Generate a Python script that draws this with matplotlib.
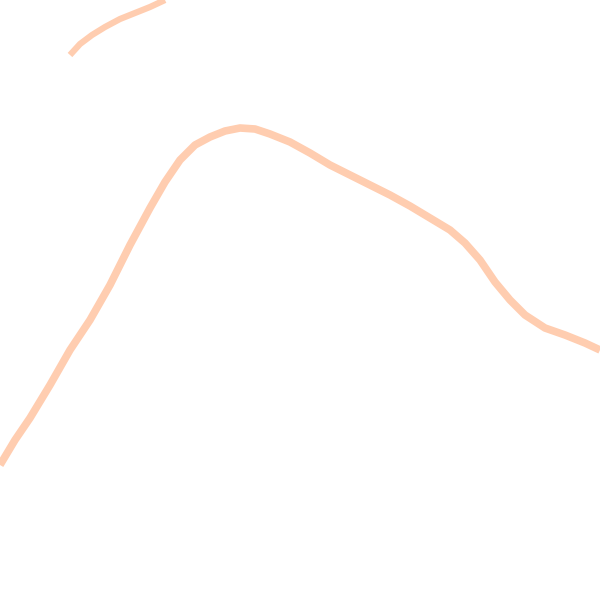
import matplotlib
matplotlib.use("Agg")
import matplotlib.pyplot as plt

# main curve (x across, y up)
main_x = [0, 15, 30, 50, 70, 90, 110, 130, 150, 165, 180, 195, 210, 225, 240, 255, 270,
          290, 310, 330, 350, 370, 390, 410, 430, 450, 465, 480, 495, 510, 525, 545, 565, 585, 600]
main_y = [135, 160, 182, 215, 250, 280, 315, 355, 392, 418, 440, 455, 463, 469, 472, 471, 466,
          458, 447, 435, 425, 415, 405, 394, 382, 370, 357, 340, 318, 300, 285, 272, 265, 257, 250]

# small arc at the top left
arc_x = [70, 80, 92, 105, 120, 135, 150, 165]
arc_y = [545, 556, 565, 573, 581, 587, 593, 600]

line_color = "#ffcdb0"

fig = plt.figure(figsize=(6, 6), dpi=100)
ax = fig.add_axes([0, 0, 1, 1])
ax.plot(main_x, main_y, color=line_color, lw=5.5, solid_capstyle="butt", solid_joinstyle="round")
ax.plot(arc_x, arc_y, color=line_color, lw=4.5, solid_capstyle="butt", solid_joinstyle="round")
ax.set_xlim(0, 600)
ax.set_ylim(0, 600)
ax.axis("off")
fig.savefig("out.png", dpi=100, facecolor="white")
